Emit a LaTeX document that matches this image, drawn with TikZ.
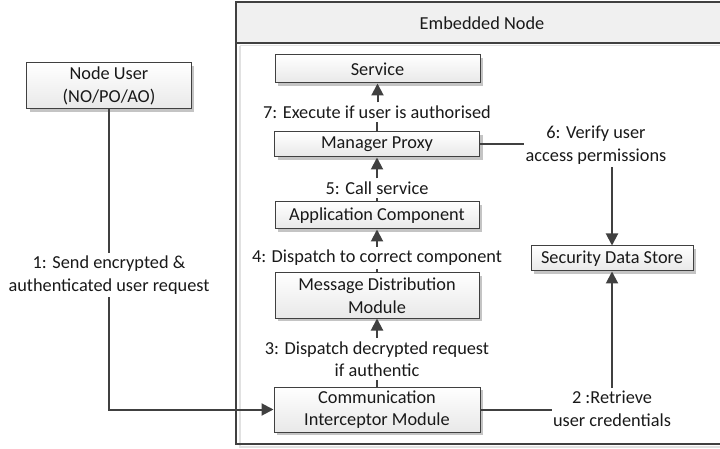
\documentclass[tikz,border=0pt]{standalone}
\usepackage{fontspec}
\setmainfont{Carlito}
\usetikzlibrary{arrows.meta,shadows}
\definecolor{edge}{HTML}{404040}
\definecolor{hdr}{HTML}{F0F0F0}
\definecolor{shade}{HTML}{C4C4C4}
\begin{document}
\begin{tikzpicture}[x=1bp,y=-1bp,
  every node/.style={font=\fontsize{18.3bp}{22.5bp}\selectfont, text=black!90},
  compbox/.style={draw=edge, line width=1bp, rectangle, align=center, inner sep=0pt,
    top color=white, bottom color=black!9,
    drop shadow={shadow xshift=3bp, shadow yshift=-3bp, fill=shade, opacity=1}},
  flow/.style={draw=edge, line width=2bp, -{Triangle[length=12bp,width=12bp]}},
  plain/.style={draw=edge, line width=2bp},
  lbl/.style={align=center, inner xsep=1bp, inner ysep=3bp}]
\clip (0,0) rectangle (720,449);
\useasboundingbox (0,0) rectangle (720,449);

% Embedded node frame with its header band
\draw[shade!50, line width=1.5bp] (240,46) -- (240,447) -- (725,447);
\draw[shade!50, line width=1.5bp] (240,45.5) -- (725,45.5);
\fill[hdr] (236,2) rectangle (725,43);
\draw[edge, line width=1.3bp] (236,2) rectangle (725,444);
\draw[edge, line width=1.3bp] (236,43) -- (725,43);
\node (hdrlbl) at (482,23) {Embedded Node};

% Components
\node[compbox, minimum width=205bp, minimum height=28bp] (service) at (377.5,69) {Service};
\node[compbox, minimum width=205bp, minimum height=25bp] (proxy) at (377,144.5) {Manager Proxy};
\node[compbox, minimum width=204bp, minimum height=27bp] (app) at (377,215.5) {Application Component};
\node[compbox, minimum width=204bp, minimum height=45bp] (mdm) at (377,295.5) {Message Distribution\\Module};
\node[compbox, minimum width=206bp, minimum height=45bp] (cim) at (377,409.5) {Communication\\Interceptor Module};
\node[compbox, minimum width=162bp, minimum height=25bp] (sds) at (612,258.5) {Security Data Store};
\node[compbox, minimum width=164bp, minimum height=46bp] (user) at (109,86) {Node User\\(NO/PO/AO)};

% Connector labels (the connectors break around them)
\node[lbl] (l1) at (109,275) {1: Send encrypted \&\\authenticated user request};
\node[lbl] (l2) at (612,409) {2 :Retrieve\\user credentials};
\node[lbl] (l3) at (377,359) {3: Dispatch decrypted request\\if authentic};
\node[lbl] (l4) at (377,258) {4: Dispatch to correct component};
\node[lbl] (l5) at (377,188) {5: Call service};
\node[lbl] (l6) at (596,145) {6: Verify user\\access permissions};
\node[lbl] (l7) at (377,112) {7: Execute if user is authorised};

% Message flow
\draw[plain] (user.south) -- (user.south |- l1.north);
\draw[flow] (user.south |- l1.south) -- (user.south |- cim.west) -- (cim.west);

\draw[plain] (cim.east) -- (l2.west |- cim.east);
\draw[flow] (sds.south |- l2.north) -- (sds.south);

\draw[plain] (cim.north) -- (cim.north |- l3.south);
\draw[flow] (mdm.south |- l3.north) -- (mdm.south);

\draw[plain] (mdm.north) -- (mdm.north |- l4.south);
\draw[flow] (app.south |- l4.north) -- (app.south);

\draw[plain] (app.north) -- (app.north |- l5.south);
\draw[flow] (proxy.south |- l5.north) -- (proxy.south);

\draw[plain] (proxy.east) -- (l6.west |- proxy.east);
\draw[flow] (sds.north |- l6.south) -- (sds.north);

\draw[plain] (proxy.north) -- (proxy.north |- l7.south);
\draw[flow] (service.south |- l7.north) -- (service.south);
\end{tikzpicture}
\end{document}
